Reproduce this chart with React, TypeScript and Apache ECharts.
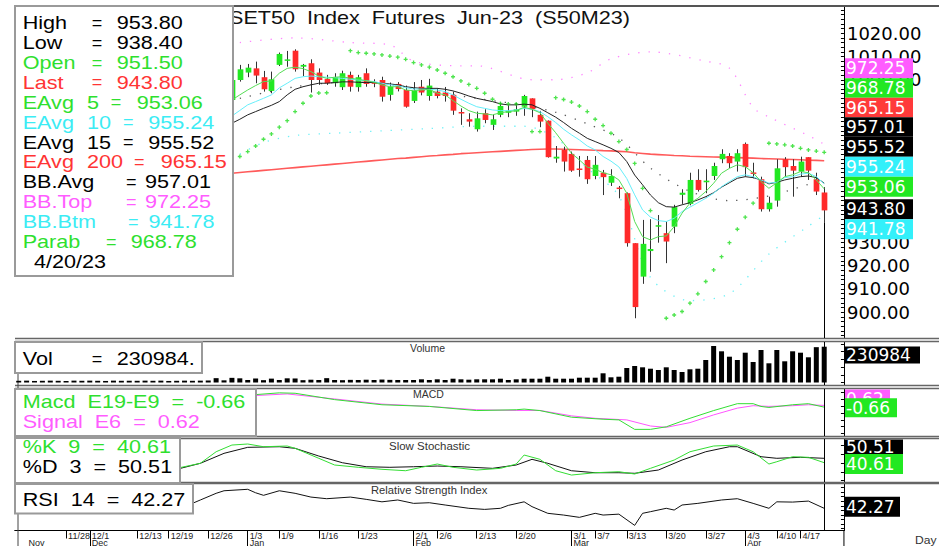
import React, { useEffect, useRef } from "react";
import * as echarts from "echarts";

const dates = [
  "11/18","11/21","11/22","11/23","11/24","11/25","11/28","11/29","11/30",
  "12/1","12/2","12/6","12/7","12/8","12/9","12/13","12/14","12/15","12/16","12/19","12/20","12/21","12/22","12/23","12/26","12/27","12/28","12/29","12/30",
  "1/3","1/4","1/5","1/6","1/9","1/10","1/11","1/12","1/13","1/16","1/17","1/18","1/19","1/20","1/23","1/24","1/25","1/26","1/27","1/30","1/31",
  "2/1","2/2","2/3","2/6","2/7","2/8","2/9","2/10","2/13","2/14","2/15","2/16","2/17","2/20","2/21","2/22","2/23","2/24","2/27","2/28",
  "3/1","3/2","3/3","3/7","3/8","3/9","3/10","3/13","3/14","3/15","3/16","3/17","3/20","3/21","3/22","3/23","3/24","3/27","3/28","3/29","3/30","3/31",
  "4/3","4/4","4/5","4/7","4/10","4/11","4/12","4/17","4/18","4/19","4/20","4/21","4/24"
];
const dateTicks = ["11/28","12/1","12/13","12/19","12/26","1/3","1/9","1/16","1/23","2/1","2/6","2/13","2/20","3/1","3/7","3/13","3/20","3/27","4/3","4/10","4/17"];
const monthStarts = ["11/21","12/1","1/3","2/1","3/1","4/3"];
const monthNames = ["Nov","Dec","Jan","Feb","Mar","Apr"];
const priceTicks = [900,910,920,930,1000,1010,1020];

// [index, open, high, low, close]
const ohlc = [
  [27,991.3,1000.5,990.5,999.9],[28,999.9,1006.4,999.2,1004.5],[29,1003.1,1006.8,1001.1,1005.2],
  [30,1004.9,1007.8,998.5,1001.8],[31,1001.1,1003.8,994.9,995.9],[32,995.2,1003.5,994.2,1000.2],
  [33,1006.4,1011.7,1005.9,1011.1],[34,1008.3,1012.4,1005.6,1008.6],[35,1012.5,1013.1,1003.5,1004.5],
  [36,1005.6,1006.8,1001.6,1006.4],[37,1007.1,1008.8,994.5,999.9],[38,1003.1,1004.9,997.8,999.9],
  [39,1000.3,1002.1,997.8,998.5],[40,998.5,1002.8,997.0,1001.1],[41,996.8,1003.9,995.6,1002.8],
  [42,1002.1,1003.5,994.9,997.0],[43,996.8,1002.1,994.9,1001.1],[44,1002.8,1004.9,997.0,998.2],
  [45,998.8,1000.2,996.8,998.4],[46,999.9,1001.3,990.6,992.7],[47,993.5,998.8,991.0,997.0],
  [48,998.2,999.0,995.0,996.0],[49,995.6,997.5,988.0,988.4],[50,990.9,999.0,990.0,995.3],
  [51,997.0,999.9,993.3,994.5],[52,993.0,1000.4,991.0,997.5],[53,994.9,996.3,992.0,993.0],
  [54,994.5,996.9,990.6,993.0],[55,993.5,994.9,984.9,986.7],[56,986.0,987.7,980.6,985.6],
  [57,983.0,985.6,979.8,982.0],[58,978.7,986.3,977.7,983.4],[59,985.6,987.3,981.3,982.7],
  [60,980.6,985.0,978.4,983.0],[61,984.9,990.2,983.9,988.7],[62,985.8,989.2,983.9,986.7],
  [63,986.3,990.0,984.5,987.3],[64,988.4,993.5,984.5,993.0],[65,992.0,992.0,983.9,987.3],
  [66,984.9,986.6,979.6,982.0],[67,982.4,982.5,966.5,966.7],[68,966.1,971.5,964.3,966.9],
  [69,969.8,971.2,960.5,964.8],[70,968.1,969.1,960.4,960.9],[71,961.7,967.2,958.3,961.3],
  [72,965.5,967.2,955.2,957.2],[73,958.6,967.2,957.2,963.4],[74,960.0,961.2,950.4,958.1],
  [75,955.7,961.5,954.3,958.6],[76,953.5,954.3,949.0,953.1],[77,951.2,951.5,928.2,929.7],
  [78,929.7,929.7,897.4,902.2],[79,915.3,939.7,912.2,929.4],[80,926.3,940.0,917.4,927.2],
  [81,936.8,941.8,929.9,937.4],[82,934.0,939.0,921.1,930.4],[83,936.8,946.2,934.0,945.2],
  [84,950.5,952.9,946.6,951.4],[85,946.6,960.0,946.0,956.9],[86,956.9,961.5,951.9,952.6],
  [87,955.9,961.5,951.2,956.6],[88,958.6,964.3,956.9,962.9],[89,965.8,970.1,964.1,968.1],
  [90,967.2,968.4,962.0,964.1],[91,964.8,970.1,960.5,968.4],[92,972.4,973.0,958.3,962.4],
  [93,960.0,964.3,957.6,959.6],[94,957.2,958.3,943.3,944.3],[95,944.3,949.7,943.3,947.1],
  [96,948.0,965.8,945.4,961.9],[97,965.8,966.7,958.3,962.4],[98,962.9,965.8,949.7,960.9],
  [99,960.5,966.9,958.3,964.8],[100,966.7,966.7,956.9,960.9],[101,957.2,960.0,950.4,951.9],
  [102,951.5,953.8,938.4,943.8]
];

const emaStart = 27;
const ema5 = [991.3,993.5,995.6,997.5,999.2,999.5,1002.8,1004.9,1005.4,1004.8,1003.5,1001.6,1000.6,1001.1,1001.3,1000.6,1000.2,999.6,998.9,997.8,997.0,997.0,995.6,995.3,995.6,995.9,994.2,993.5,991.0,988.7,986.7,985.6,985.3,984.9,985.8,986.3,986.7,988.2,987.3,985.8,981.3,977.2,972.7,968.4,965.5,962.4,961.5,960.0,959.1,956.9,951.2,939.0,932.5,931.1,932.5,932.8,936.8,942.6,946.9,949.0,951.9,955.5,959.8,961.9,963.4,962.6,960.0,956.2,953.3,955.7,958.3,959.1,960.5,960.0,956.9,953.06];
const ema10 = [984.4,986.8,989.2,990.6,992.0,993.5,996.5,998.5,1000.6,1001.3,1001.6,1001.3,1001.1,1000.9,1000.6,1000.2,999.9,999.6,999.2,998.5,997.8,997.5,996.6,996.0,996.0,995.9,995.6,994.9,993.5,991.6,989.9,988.4,987.7,987.0,986.7,986.7,987.0,987.7,987.3,986.3,984.1,981.6,978.7,976.3,974.1,971.5,969.8,967.0,965.0,962.5,957.5,950.5,944.0,940.9,939.4,939.0,940.4,943.3,945.2,947.1,949.0,951.2,954.0,956.2,958.3,959.1,958.3,956.9,955.5,955.9,957.9,958.3,959.4,959.8,958.3,955.24];
const ema15 = [981.3,983.0,984.9,986.3,987.7,989.0,990.6,993.5,995.9,997.0,997.8,998.5,998.5,998.8,999.1,999.1,998.9,998.8,998.8,998.5,998.2,997.8,997.0,996.6,996.3,996.3,996.3,995.9,995.2,994.2,993.0,992.0,991.3,990.6,989.6,989.2,989.2,989.5,989.2,987.7,985.8,983.9,981.6,979.1,977.0,974.8,973.4,972.0,970.5,968.7,964.8,959.0,954.8,950.4,947.1,945.4,945.2,946.2,947.1,948.3,949.7,951.4,953.8,955.7,957.6,958.3,957.9,956.9,955.2,955.9,956.9,957.6,958.3,958.6,957.9,955.52];
const ema200 = [959.8,960.1,960.4,960.7,961.0,961.3,961.6,961.9,962.2,962.5,962.8,963.1,963.4,963.7,964.0,964.3,964.6,964.9,965.2,965.5,965.8,966.1,966.3,966.6,966.9,967.2,967.4,967.7,967.9,968.2,968.4,968.6,968.8,969.0,969.2,969.4,969.6,969.8,970.0,970.1,970.2,970.2,970.1,970.0,969.9,969.8,969.7,969.5,969.4,969.2,969.0,968.6,968.3,968.0,967.8,967.6,967.4,967.3,967.1,967.0,966.9,966.8,966.7,966.6,966.5,966.4,966.3,966.1,966.0,965.9,965.8,965.7,965.6,965.4,965.3,965.15];

// Bollinger bands, read as sparse points off the faint dotted lines
const bbTop = [[28,1016],[35,1018],[42,1016],[47,1015],[50,1008],[56,1006],[58,1006],[65,1000],[68,1000],[72,1003],[75,1009],[80,1012],[87,1008],[90,1005],[93,988],[95,984],[100,976],[102,972.25]];
const bbAvg = [[28,992],[35,997],[42,999],[47,998],[52,995],[58,992],[64,989],[68,986],[72,981],[76,975],[80,962],[85,952],[90,948],[95,950],[100,955],[102,957.01]];
const bbBtm = [[28,968],[31,973],[35,976],[40,977],[46,978],[52,979],[58,980],[64,980],[68,975],[72,962],[76,950],[80,915],[85,905],[90,908],[95,925],[100,937],[102,941.78]];

const parab = [
  [28,967.0],[29,969.1],[30,971.5],[31,974.4],[32,976.7],[33,979.6],[34,982.4],[35,986.3],[36,989.9],[37,993.0],[38,994.3],[39,994.4],
  [42,1012.5],[43,1011.7],[44,1011.4],[45,1011.1],[46,1010.7],[47,1010.2],[48,1009.7],[49,1008.8],[50,1007.4],[51,1006.4],[52,1005.4],[53,1004.2],
  [54,1002.8],[55,1001.3],[56,999.5],[57,998.0],[58,996.3],[59,994.2],[60,991.6],[61,989.8],[62,989.6],[63,989.6],
  [65,977.7],[66,977.7],
  [68,992.3],[69,991.5],[70,990.4],[71,988.7],[72,986.3],[73,983.0],[74,980.3],[75,977.0],[76,973.4],[77,970.0],[78,964.0],[79,953.3],[80,943.7],
  [82,897.4],[83,898.8],[84,900.3],[85,903.9],[86,907.9],[87,913.2],[88,918.2],[89,923.9],[90,929.9],[91,935.7],[92,940.9],[93,946.9],
  [95,972.7],[96,972.4],[97,972.0],[98,971.5],[99,970.5],[100,969.8],[101,969.3],[102,968.78]
];

const volume = [
  11000,12000,10000,11000,12000,11000,10000,12000,11000,12000,11000,10000,12000,11000,12000,11000,12000,11000,12000,10000,11000,12000,11000,12000,13000,
  28000,14000,30000,27000,16000,26000,15000,25000,16000,27000,26000,15000,18000,16000,28000,16000,15000,17000,16000,18000,16000,19000,17000,16000,
  16100,16100,20600,16100,20600,16100,24500,20600,18100,20600,20600,20600,24500,16100,20600,24500,24500,24500,37400,24500,24500,24500,31000,31000,31000,
  59400,33500,37400,93600,106500,98000,89000,80650,98000,80650,67700,85200,89000,145200,235500,201300,166500,145200,192300,132300,209700,123900,209700,
  136800,201300,192300,162600,228000,230984
];

const macd = [[30,8.6],[33,9.9],[35,9.6],[40,4.9],[46,1.1],[52,-0.15],[58,-3.2],[63,-2.6],[64,-2.1],[66,-3.2],[70,-8.1],[74,-9.6],[76,-10.1],[78,-17.1],[80,-17.1],[82,-15.2],[85,-8.9],[88,-3.2],[91,1.9],[93,1.9],[94,-0.15],[95,-0.9],[98,1.1],[100,1.9],[102,-0.66]];
const signal = [[30,7.9],[34,9.1],[40,5.4],[46,1.6],[52,-0.1],[58,-2.6],[63,-3.1],[66,-3.1],[70,-7.1],[73,-8.9],[77,-10.1],[80,-14.6],[82,-15.6],[85,-12.1],[88,-6.4],[91,-1.4],[93,0.4],[95,-0.1],[98,0.4],[100,1.1],[102,0.62]];
const stochK = [[20,27.9],[23,39.2],[25,65.3],[27,80.4],[29,82.7],[31,76.6],[34,78.2],[35,73],[38,50.5],[40,35.4],[43,30.2],[46,25.7],[49,22.5],[51,30.2],[53,37.6],[55,30.2],[58,24.1],[61,27.9],[63,37.6],[64,57.9],[66,48.2],[68,22.5],[70,12.8],[73,18],[76,20.3],[78,15.1],[80,27.9],[83,46.6],[85,65.3],[88,78.2],[91,80.4],[93,65.3],[95,37.6],[96,42.8],[98,54.1],[100,52.7],[102,40.61]];
const stochD = [[20,25.7],[23,39.2],[26,61.7],[29,75.2],[33,76.6],[35,73],[38,55.6],[41,40.5],[44,31.5],[47,30.2],[50,31.5],[53,33.1],[56,31.5],[60,27.9],[63,35.4],[65,48.2],[67,39.2],[70,22.5],[73,18],[76,18],[78,16.7],[81,24.1],[84,46.6],[87,65.3],[90,76.6],[91,76.6],[94,54.1],[96,50.5],[99,52.7],[102,50.51]];
const rsi = [[22,47.7],[23,51.4],[25,58.7],[26,61.5],[29,63.1],[30,59.3],[31,56.5],[33,61.5],[35,58.7],[37,54.6],[39,52.8],[42,54.6],[44,52.1],[46,49.4],[48,51.4],[50,47.7],[52,48.4],[54,45.9],[57,42.3],[59,41.1],[61,42.3],[62,45.5],[64,49.4],[65,44.1],[67,36.8],[69,34.9],[71,32.4],[73,36.8],[74,34.9],[76,35.9],[78,23.6],[79,36.8],[80,38.6],[82,42.3],[83,40.4],[84,45.9],[86,47.7],[89,51.4],[91,52.8],[93,47.7],[95,42.3],[96,49.4],[98,49.1],[100,50.2],[102,42.27]];

const GREEN = "#2EE02E";
const RED = "#FF3434";
const CYAN = "#3CECF4";
const MAGENTA = "#FF5CFF";
const LEGEND_FONT = '"Liberation Sans", Arial, sans-serif';
const AXIS_FONT = '"DejaVu Sans", sans-serif';

const last = <T,>(a: T[]) => a[a.length - 1];

function txt(x: number, y: number, text: string, fill: string, size = 18, sx = 1.2, z = 102) {
  return {
    type: "text", x, y, scaleX: sx, z, silent: true,
    style: { text, fill, font: `${size}px ${LEGEND_FONT}`, verticalAlign: "middle", align: "left" },
  };
}
function eq(x: number, y: number, fill: string) {
  return txt(x, y, "=", fill, 18, 1.0);
}
function box(x: number, y: number, w: number, h: number, z = 100) {
  return { type: "rect", z, silent: true, shape: { x, y, width: w, height: h }, style: { fill: "#fff", stroke: "#9a9a9a", lineWidth: 2 } };
}
function tag(y: number, h: number, w: number, bg: string, text: string, z = 110) {
  return {
    type: "group", z, silent: true,
    children: [
      { type: "rect", z, shape: { x: 845, y, width: w, height: h }, style: { fill: bg } },
      { type: "text", z: z + 1, x: 846, y: y + h / 2, style: { text, fill: "#fff", font: `17px ${AXIS_FONT}`, verticalAlign: "middle", align: "left" } },
    ],
  };
}
function hline(y: number, x1 = 15, x2 = 939, color = "#666", w = 1.5) {
  return { type: "line", z: 1, silent: true, shape: { x1, y1: y, x2, y2: y }, style: { stroke: color, lineWidth: w } };
}

function buildOption() {
  const c = last(ohlc);
  const f2 = (v: number) => v.toFixed(2);
  const lineData = (arr: number[]) => arr.map((v, i) => [emaStart + i, v]);
  const L = 14.75;
  const R = 939 - 843.95;
  const grids = [
    { top: 7, height: 331 },
    { top: 342, height: 43 },
    { top: 389, height: 47 },
    { top: 439, height: 43 },
    { top: 484, height: 46.5 },
  ].map((g) => ({ ...g, left: L, right: R, outerBoundsMode: "none", containLabel: false }));

  const hiddenX = (gi: number) => ({
    type: "category", gridIndex: gi, data: dates, boundaryGap: true,
    axisLine: { show: false }, axisTick: { show: false }, axisLabel: { show: false }, splitLine: { show: false },
  });
  const xAxes: any[] = [0, 1, 2, 3].map(hiddenX);
  xAxes.push({
    type: "category", gridIndex: 4, data: dates, boundaryGap: true,
    axisLine: { show: true, lineStyle: { color: "#000", width: 1 } },
    axisTick: { show: true, alignWithLabel: true, length: 8, lineStyle: { color: "#000" }, interval: (_i: number, v: string) => dateTicks.includes(v) },
    axisLabel: { show: true, interval: (_i: number, v: string) => dateTicks.includes(v), align: "left", margin: 1, padding: [0, 0, 0, 2], fontSize: 9, fontFamily: LEGEND_FONT, color: "#222" },
    splitLine: { show: false },
  });
  xAxes.push({
    type: "category", gridIndex: 4, data: dates, boundaryGap: true, position: "bottom", offset: 7.5,
    axisLine: { show: false },
    axisTick: { show: true, alignWithLabel: true, length: 9, lineStyle: { color: "#000" }, interval: (_i: number, v: string) => monthStarts.includes(v) && v !== monthStarts[0] },
    axisLabel: {
      show: true, interval: (_i: number, v: string) => monthStarts.includes(v), align: "left", margin: 0, padding: [0, 0, 0, 2],
      fontSize: 9, fontFamily: LEGEND_FONT, color: "#222", formatter: (v: string) => monthNames[monthStarts.indexOf(v)],
    },
    splitLine: { show: false },
  });

  const yBase = (gi: number, min: number, max: number, ticks: number[]) => ({
    type: "value", gridIndex: gi, position: "right", min, max, scale: true,
    axisLine: { show: true, lineStyle: { color: "#000", width: 1 } },
    axisTick: { show: true, inside: true, length: 3, customValues: ticks, lineStyle: { color: "#000" } },
    axisLabel: { show: false }, splitLine: { show: false },
  });
  const minorPrice: number[] = [];
  for (let v = 890; v <= 1030; v += 2) minorPrice.push(v);
  const yAxes: any[] = [
    {
      ...yBase(0, 888.9, 1031.3, minorPrice),
      axisLabel: { show: true, customValues: priceTicks, formatter: (v: number) => v.toFixed(2), margin: 3, fontSize: 18, fontFamily: AXIS_FONT, color: "#000" },
    },
    yBase(1, -16130, 261300, [0, 50000, 100000, 150000, 200000, 250000]),
    yBase(2, -22, 12.75, [-20, -15, -10, -5, 0, 5, 10]),
    yBase(3, -2.9, 94, [0, 20, 40, 60, 80]),
    yBase(4, 18, 68.9, [20, 25, 30, 35, 40, 45, 50, 55, 60, 65]),
  ];

  const vline = {
    silent: true, symbol: "none", label: { show: false }, animation: false,
    lineStyle: { color: "#000", width: 1, type: "solid" }, data: [{ xAxis: "4/20" }],
  };
  const dotted = (color: string) => ({ color, width: 1.3, type: [1.3, 9] as any, opacity: 0.75 });

  const series: any[] = [
    { type: "line", name: "BB.Top", xAxisIndex: 0, yAxisIndex: 0, data: bbTop, symbol: "none", smooth: 0.3, lineStyle: dotted(MAGENTA), z: 1 },
    { type: "line", name: "BB.Avg", xAxisIndex: 0, yAxisIndex: 0, data: bbAvg, symbol: "none", smooth: 0.3, lineStyle: dotted("#222"), z: 1 },
    { type: "line", name: "BB.Btm", xAxisIndex: 0, yAxisIndex: 0, data: bbBtm, symbol: "none", smooth: 0.3, lineStyle: dotted(CYAN), z: 1 },
    { type: "line", name: "EAvg 200", xAxisIndex: 0, yAxisIndex: 0, data: lineData(ema200), symbol: "none", lineStyle: { color: "#FF5A5A", width: 1.6 }, z: 2 },
    {
      type: "custom", name: "candles", xAxisIndex: 0, yAxisIndex: 0, z: 3,
      data: ohlc, encode: { x: 0, y: [1, 2, 3, 4] },
      renderItem: (_p: any, api: any) => {
        const i = api.value(0), o = api.value(1), h = api.value(2), l = api.value(3), cl = api.value(4);
        const pO = api.coord([i, o]), pC = api.coord([i, cl]), pH = api.coord([i, h]), pL = api.coord([i, l]);
        const bw = Math.max(3, api.size([1, 0])[0] * 0.72);
        const x = Math.round(pO[0]) + 0.5;
        let top = Math.min(pO[1], pC[1]);
        let hh = Math.abs(pO[1] - pC[1]);
        if (hh < 1.5) { top -= (1.5 - hh) / 2; hh = 1.5; }
        return {
          type: "group",
          children: [
            { type: "line", shape: { x1: x, y1: pH[1], x2: x, y2: pL[1] }, style: { stroke: "#333", lineWidth: 1 } },
            { type: "rect", shape: { x: x - bw / 2, y: top, width: bw, height: hh }, style: { fill: cl >= o ? "#22E822" : "#FF2A2A" } },
          ],
        };
      },
    },
    { type: "line", name: "EAvg 15", xAxisIndex: 0, yAxisIndex: 0, data: lineData(ema15), symbol: "none", lineStyle: { color: "#222", width: 1 }, z: 4 },
    { type: "line", name: "EAvg 10", xAxisIndex: 0, yAxisIndex: 0, data: lineData(ema10), symbol: "none", lineStyle: { color: "#66EEFA", width: 1 }, z: 4 },
    { type: "line", name: "EAvg 5", xAxisIndex: 0, yAxisIndex: 0, data: lineData(ema5), symbol: "none", lineStyle: { color: "#55DD55", width: 1 }, z: 4 },
    {
      type: "scatter", name: "Parab", xAxisIndex: 0, yAxisIndex: 0, data: parab, z: 5,
      symbol: "path://M1,0H2V1H3V2H2V3H1V2H0V1H1Z", symbolSize: 4, itemStyle: { color: "#22DD22" },
    },
    {
      type: "line", name: "mainline", xAxisIndex: 0, yAxisIndex: 0, data: [], symbol: "none",
      markLine: { ...vline, data: [[{ coord: ["4/20", c[3]] }, { coord: ["4/20", 888.9] }]] },
    },
    {
      type: "bar", name: "Volume", xAxisIndex: 1, yAxisIndex: 1, data: volume, barWidth: 5, itemStyle: { color: "#000" },
      markLine: vline,
    },
    { type: "line", name: "Signal", xAxisIndex: 2, yAxisIndex: 2, data: signal, symbol: "none", connectNulls: true, lineStyle: { color: "#FF55FF", width: 1 } },
    { type: "line", name: "Macd", xAxisIndex: 2, yAxisIndex: 2, data: macd, symbol: "none", connectNulls: true, lineStyle: { color: "#33DD33", width: 1 }, markLine: vline },
    { type: "line", name: "%D", xAxisIndex: 3, yAxisIndex: 3, data: stochD, symbol: "none", connectNulls: true, lineStyle: { color: "#111", width: 1 } },
    { type: "line", name: "%K", xAxisIndex: 3, yAxisIndex: 3, data: stochK, symbol: "none", connectNulls: true, lineStyle: { color: "#33DD33", width: 1 }, markLine: vline },
    { type: "line", name: "RSI", xAxisIndex: 4, yAxisIndex: 4, data: rsi, symbol: "none", connectNulls: true, lineStyle: { color: "#111", width: 1 }, markLine: vline },
  ];

  const ey = (k: number) => 22.7 + k * 19.92;
  const legendRows: any[] = [
    txt(22.7, ey(0), "High", "#000"), eq(91.7, ey(0), "#000"), txt(116.7, ey(0), f2(c[2]), "#000"),
    txt(22.7, ey(1), "Low", "#000"), eq(91.7, ey(1), "#000"), txt(116.7, ey(1), f2(c[3]), "#000"),
    txt(22.7, ey(2), "Open", GREEN), eq(91.7, ey(2), GREEN), txt(116.7, ey(2), f2(c[1]), GREEN),
    txt(22.7, ey(3), "Last", RED), eq(91.7, ey(3), RED), txt(116.7, ey(3), f2(c[4]), RED),
    txt(22.7, ey(4), "EAvg", GREEN), txt(87, ey(4), "5", GREEN), eq(110.7, ey(4), GREEN), txt(136.7, ey(4), f2(last(ema5)), GREEN),
    txt(22.7, ey(5), "EAvg", CYAN), txt(87, ey(5), "10", CYAN), eq(123, ey(5), CYAN), txt(148.3, ey(5), f2(last(ema10)), CYAN),
    txt(22.7, ey(6), "EAvg", "#000"), txt(87, ey(6), "15", "#000"), eq(123, ey(6), "#000"), txt(148.3, ey(6), f2(last(ema15)), "#000"),
    txt(22.7, ey(7), "EAvg", RED), txt(87, ey(7), "200", RED), eq(134, ey(7), RED), txt(160.7, ey(7), f2(last(ema200)), RED),
    txt(22.7, ey(8), "BB.Avg", "#000"), eq(126, ey(8), "#000"), txt(145, ey(8), f2(last(bbAvg)[1]), "#000"),
    txt(22.7, ey(9), "BB.Top", MAGENTA), eq(126, ey(9), MAGENTA), txt(145, ey(9), f2(last(bbTop)[1]), MAGENTA),
    txt(22.7, ey(10), "BB.Btm", CYAN), eq(128, ey(10), CYAN), txt(148.5, ey(10), f2(last(bbBtm)[1]), CYAN),
    txt(22.7, ey(11), "Parab", GREEN), eq(106, ey(11), GREEN), txt(130.7, ey(11), f2(last(parab)[1]), GREEN),
    txt(34, ey(12), "4/20/23", "#000"),
  ];

  const graphic: any[] = [
    hline(6, 15, 939, "#555", 2),
    hline(338.5), hline(341.5), hline(385.5), hline(388.5), hline(436.5), hline(438.5), hline(482.5), hline(483.5),
    { type: "line", z: 1, silent: true, shape: { x1: 843.95, y1: 530, x2: 843.95, y2: 546 }, style: { stroke: "#000", lineWidth: 1 } },
    { type: "line", z: 1, silent: true, shape: { x1: 18, y1: 341.5, x2: 18, y2: 546 }, style: { stroke: "#444", lineWidth: 1 } },
    txt(229, 18, "SET50  Index  Futures  Jun-23  (S50M23)", "#111", 18, 1.2, 50),
    txt(410, 349, "Volume", "#333", 10, 1.05, 50),
    txt(413, 395, "MACD", "#333", 10, 1.05, 50),
    txt(389, 446, "Slow Stochastic", "#333", 10, 1.15, 50),
    txt(371, 490.7, "Relative Strength Index", "#333", 10, 1.12, 50),
    txt(915, 540, "Day", "#333", 11, 1.1, 50),
    box(15, 6, 218, 270),
    ...legendRows,
    box(15, 342, 187, 31),
    txt(22.7, 359, "Vol", "#000"), eq(91.7, 359, "#000"), txt(116.7, 359, String(last(volume)) + ".", "#000"),
    box(15, 389, 241, 47),
    txt(22.7, 401.7, `Macd  E19-E9  =  ${f2(last(macd)[1])}`, GREEN),
    txt(22.7, 421.7, `Signal  E6  =  ${f2(last(signal)[1])}`, MAGENTA),
    box(15, 438, 165, 45),
    txt(22.7, 447, `%K  9  =  ${f2(last(stochK)[1])}`, GREEN),
    txt(22.7, 466.5, `%D  3  =  ${f2(last(stochD)[1])}`, "#000"),
    box(15, 484, 178, 29.5),
    txt(22.7, 499.3, `RSI  14  =  ${f2(last(rsi)[1])}`, "#000"),
    tag(58.3, 20, 68, MAGENTA, f2(last(bbTop)[1])),
    tag(78.3, 19.5, 68, "#22E822", f2(last(parab)[1])),
    tag(97.8, 19.5, 68, "#FF3A3A", f2(last(ema200))),
    tag(117.3, 19.5, 68, "#000", f2(last(bbAvg)[1])),
    tag(136.8, 20, 68, "#000", f2(last(ema15))),
    tag(156.8, 20, 68, "#33F0FA", f2(last(ema10))),
    tag(176.8, 20, 68, "#22E822", f2(last(ema5))),
    tag(199.3, 20, 68, "#000", f2(c[4])),
    tag(219.3, 20, 68, "#33F0FA", f2(last(bbBtm)[1])),
    tag(346.5, 17, 75, "#000", String(last(volume))),
    tag(389.5, 18, 45, MAGENTA, f2(last(signal)[1])),
    tag(398.3, 19, 52, "#22E822", f2(last(macd)[1]), 112),
    tag(439.5, 15, 58, "#000", f2(last(stochD)[1])),
    tag(454, 20, 58, "#22E822", f2(last(stochK)[1]), 112),
    tag(496.7, 20, 55, "#000", f2(last(rsi)[1])),
  ];

  return {
    animation: false,
    backgroundColor: "#fff",
    grid: grids,
    xAxis: xAxes,
    yAxis: yAxes,
    series,
    graphic: { elements: graphic },
  };
}

export default function App() {
  const ref = useRef<HTMLDivElement>(null);
  useEffect(() => {
    if (!ref.current) return;
    const chart = echarts.init(ref.current, null, { renderer: "svg" });
    chart.setOption(buildOption() as any);
    return () => chart.dispose();
  }, []);
  return <div ref={ref} style={{ position: "fixed", left: 0, top: 0, width: 939, height: 546, background: "#fff" }} />;
}
